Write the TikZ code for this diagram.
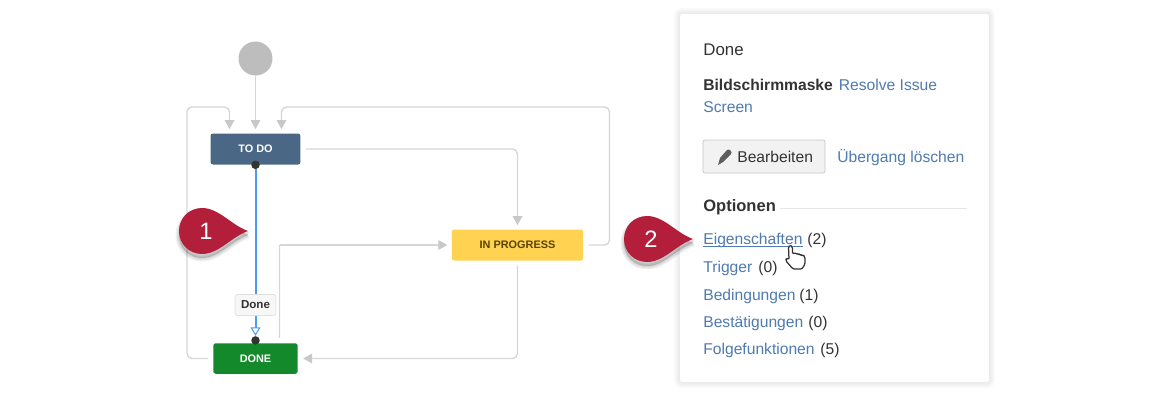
\documentclass[tikz,border=0pt]{standalone}
\usepackage{fontspec}
\setmainfont{Liberation Sans}
\usetikzlibrary{arrows.meta}

\definecolor{wiregray}{HTML}{D6D6D6}
\definecolor{tipgray}{HTML}{C8C8C8}
\definecolor{todoblue}{HTML}{4A6785}
\definecolor{doneblue}{HTML}{4A9DEE}
\definecolor{donegreen}{HTML}{14892C}
\definecolor{progyellow}{HTML}{FFD351}
\definecolor{progtext}{HTML}{594300}
\definecolor{pinred}{HTML}{B31F3A}
\definecolor{linkblue}{HTML}{4F7BAF}
\definecolor{bodytext}{HTML}{333333}

\tikzset{
  wire/.style={draw=wiregray, line width=0.027cm, rounded corners=0.1cm, -{Triangle[length=0.18cm,width=0.19cm,color=tipgray]}},
  plainwire/.style={draw=wiregray, line width=0.027cm, rounded corners=0.1cm},
  state/.style={rounded corners=0.05cm, inner sep=0, text=white, font=\fontsize{6.2pt}{7pt}\selectfont\bfseries},
  knob/.style={circle, fill=bodytext, inner sep=0, minimum size=0.17cm},
  paneltext/.style={anchor=base west, inner sep=0, text=bodytext, font=\fontsize{8.9pt}{10pt}\selectfont},
  panellink/.style={paneltext, text=linkblue},
  blueline/.style={draw=doneblue, line width=0.04cm}
}

\begin{document}
\begin{tikzpicture}[x=0.02cm, y=-0.02cm]
    \useasboundingbox (0,0) rectangle (1170,400);

    % workflow
    \node (start) [circle, fill=black!26, inner sep=0, minimum size=0.68cm] at (255.5,58.5) {};
    \node (todo) [state, fill=todoblue, minimum width=1.8cm, minimum height=0.62cm] at (255.5,149) {TO DO};
    \node (progress) [state, fill=progyellow, text=progtext, minimum width=2.63cm, minimum height=0.62cm] at (517.5,245) {IN PROGRESS};
    \node (done) [state, fill=donegreen, minimum width=1.69cm, minimum height=0.61cm] at (255.5,358.5) {DONE};

    \coordinate (lefttop) at (187,107);
    \coordinate (righttop) at (609.5,107);
    \coordinate (bendup) at (279.5,245);

    \draw [wire] (start) -- ([yshift=0.08cm]todo.north);
    \draw [wire] ([xshift=-0.1cm]done.west) -| (lefttop) -| ([xshift=-0.52cm,yshift=0.08cm]todo.north);
    \draw [wire] ([xshift=0.1cm]progress.east) -| (righttop) -| ([xshift=0.52cm,yshift=0.08cm]todo.north);
    \draw [wire] ([xshift=0.1cm]todo.east) -| ([yshift=0.08cm]progress.north);
    \draw [wire] ([yshift=-0.1cm]progress.south) |- ([xshift=0.1cm]done.east);
    \draw [plainwire] ([xshift=0.48cm,yshift=0.1cm]done.north) -- (bendup);
    \draw [wire] (bendup) -- ([xshift=-0.08cm]progress.west);

    \node (todoknob) [knob] at (todo.south) {};
    \node (doneknob) [knob] at ([yshift=0.05cm]done.north) {};
    \node (donelabel) [draw=black!12, fill=black!3, rounded corners=0.05cm, inner sep=0, minimum width=0.82cm, minimum height=0.42cm, text=bodytext, font=\fontsize{6.6pt}{8pt}\selectfont\bfseries] at (255.5,305) {Done};
    \draw [blueline] (todoknob) -- (donelabel);
    \draw [blueline, -{Triangle[open,length=0.17cm,width=0.2cm,line width=0.02cm,fill=white]}] (donelabel) -- (doneknob);

    % panel
    \foreach \s in {0.24,0.18,0.12,0.06}
        \draw [black, opacity=0.018, line width=\s cm, rounded corners=0.04cm] (680,14) rectangle (989,382);
    \node (panel) [fill=white, rounded corners=0.04cm, inner sep=0, minimum width=6.18cm, minimum height=7.36cm] at (834.5,198) {};

    \node (title) [paneltext, font=\fontsize{9.6pt}{11pt}\selectfont] at (703,55) {Done};
    \node (screenkey) [paneltext, font=\fontsize{8.9pt}{10pt}\selectfont\bfseries] at (703,90) {Bildschirmmaske};
    \node (screenlink) [panellink] at (838.5,90) {Resolve Issue};
    \node (screenrest) [panellink] at (703,112) {Screen};
    \node (editbtn) [draw=black!22, fill=black!5, rounded corners=0.04cm, inner sep=0, minimum width=2.44cm, minimum height=0.66cm] at (764,156.5) {};
    \node (edittext) [paneltext] at (737,162) {Bearbeiten};
    \node (dellink) [panellink] at (837,162) {Übergang löschen};
    \fill [black!50!bodytext!70] (718,165) -- (720,158) -- (727,150) .. controls (729,148) and (733,152) .. (731,154) -- (723,162) -- cycle;

    \node (options) [paneltext, font=\fontsize{9.4pt}{11pt}\selectfont\bfseries] at (703,211) {Optionen};
    \coordinate (ruleend) at (967,208);
    \draw [black!10, line width=0.02cm] (options.base east |- ruleend) ++(4,0) -- (ruleend);

    \node (prop) [panellink] at (703,244) {Eigenschaften};
    \draw [linkblue, line width=0.022cm] ([yshift=-0.045cm]prop.base west) -- ([yshift=-0.045cm]prop.base east);
    \node (propn) [paneltext] at (807,244) {(2)};
    \node (trig) [panellink] at (703,272) {Trigger};
    \node (trign) [paneltext] at (758,272) {(0)};
    \node (cond) [panellink] at (703,300) {Bedingungen};
    \node (condn) [paneltext] at (799,300) {(1)};
    \node (conf) [panellink] at (703,327) {Bestätigungen};
    \node (confn) [paneltext] at (808,327) {(0)};
    \node (post) [panellink] at (703,354) {Folgefunktionen};
    \node (postn) [paneltext] at (820,354) {(5)};

    % hand
    \draw [fill=white, draw=black!80, line width=0.025cm, rounded corners=0.025cm] (788.5,247) -- (790,245) -- (792.5,247) -- (792.5,254) -- (795,252.5) -- (797,254.5) -- (799,253.5) -- (801,255.5) -- (803,255) -- (805,257) -- (805,264) -- (802,269) -- (793,269) -- (786,261) -- (786,258) -- (789,259.5) -- cycle;

    % pins
    \foreach \tipx/\tipy/\num in {248/231/1,693/239/2} {
        \begin{scope}[shift={(\tipx,\tipy)}]
            \foreach \s in {0.14,0.09,0.04}
                \fill [black, opacity=0.06, draw=black, line width=\s cm, line join=round, yshift=-0.08cm]
                    (0,0) .. controls (-17,-6) and (-29,-23) .. (-46,-23) .. controls (-59,-23) and (-69,-13) .. (-69,0) .. controls (-69,13) and (-59,23) .. (-46,23) .. controls (-29,23) and (-17,6) .. (0,0);
            \fill [pinred] (0,0) .. controls (-17,-6) and (-29,-23) .. (-46,-23) .. controls (-59,-23) and (-69,-13) .. (-69,0) .. controls (-69,13) and (-59,23) .. (-46,23) .. controls (-29,23) and (-17,6) .. (0,0);
            \node (pin\num) [text=white, inner sep=0, font=\fontsize{13.5pt}{15pt}\selectfont] at (-42,0) {\num};
        \end{scope}
    }
\end{tikzpicture}
\end{document}
